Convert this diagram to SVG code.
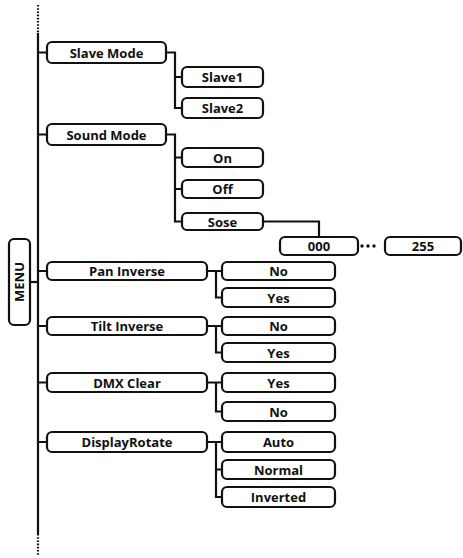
<svg xmlns="http://www.w3.org/2000/svg" width="463" height="558" viewBox="0 0 463 558">
<style>
.b{fill:#fff;stroke:#111;stroke-width:2.2}
.c{fill:none;stroke:#111;stroke-width:2.2}
.d{fill:none;stroke:#111;stroke-width:2.2;stroke-dasharray:1.6 1.6}
text{font-family:"Open Sans","Liberation Sans",sans-serif;font-weight:700;font-size:13px;fill:#111;text-anchor:middle}
</style>
<rect width="463" height="558" fill="#fff"/>
<g id="connectors">
<path class="d" d="M38 5V33M38 534V556"/>
<path class="c" d="M38 33V534"/>
<path class="c" d="M30 282H38"/>
<path class="c" d="M38 52.5H47M38 134.5H47M38 271H47M38 326H47M38 382.5H47M38 442H47"/>
<path class="c" d="M166 52.5H175V108H182M175 77H182"/>
<path class="c" d="M166 134.5H175V221.5H182M175 157.5H182M175 189H182"/>
<path class="c" d="M263 221.5H319V237"/>
<path class="c" d="M207 271H222M216 271V297.5H222"/>
<path class="c" d="M207 326H222M216 326V352.5H222"/>
<path class="c" d="M207 382.5H222M216 382.5V411.5H222"/>
<path class="c" d="M207 442H222M216 442V497H222M216 469.5H222"/>
<circle cx="362" cy="246" r="1.7" fill="#111"/>
<circle cx="368" cy="246" r="1.7" fill="#111"/>
<circle cx="374" cy="246" r="1.7" fill="#111"/>
</g>
<g id="menu"><rect class="b" x="9" y="239" width="21" height="86" rx="5"/><text transform="translate(24 282) rotate(-90)">MENU</text></g>
<g id="slave-mode"><rect class="b" x="47" y="42" width="119" height="21" rx="5"/><text x="106.5" y="58">Slave Mode</text></g>
<g id="slave1"><rect class="b" x="182" y="67" width="81" height="20" rx="5"/><text x="222.5" y="82">Slave1</text></g>
<g id="slave2"><rect class="b" x="182" y="98" width="81" height="20" rx="5"/><text x="222.5" y="113">Slave2</text></g>
<g id="sound-mode"><rect class="b" x="47" y="124" width="119" height="21" rx="5"/><text x="106.5" y="140">Sound Mode</text></g>
<g id="on"><rect class="b" x="182" y="148" width="81" height="19" rx="5"/><text x="222.5" y="162.5">On</text></g>
<g id="off"><rect class="b" x="182" y="180" width="81" height="18" rx="5"/><text x="222.5" y="194">Off</text></g>
<g id="sose"><rect class="b" x="182" y="213" width="81" height="17" rx="5"/><text x="222.5" y="226.5">Sose</text></g>
<g id="v000"><rect class="b" x="280" y="237" width="78" height="18" rx="5"/><text x="319" y="251">000</text></g>
<g id="v255"><rect class="b" x="385" y="237" width="76" height="18" rx="5"/><text x="423" y="251">255</text></g>
<g id="pan-inverse"><rect class="b" x="47" y="262" width="160" height="18" rx="5"/><text x="127" y="276">Pan Inverse</text></g>
<g id="pan-no"><rect class="b" x="222" y="262" width="113" height="18" rx="5"/><text x="278.5" y="276">No</text></g>
<g id="pan-yes"><rect class="b" x="222" y="288" width="113" height="19" rx="5"/><text x="278.5" y="302.5">Yes</text></g>
<g id="tilt-inverse"><rect class="b" x="47" y="317" width="160" height="18" rx="5"/><text x="127" y="331">Tilt Inverse</text></g>
<g id="tilt-no"><rect class="b" x="222" y="317" width="113" height="18" rx="5"/><text x="278.5" y="331">No</text></g>
<g id="tilt-yes"><rect class="b" x="222" y="343" width="113" height="19" rx="5"/><text x="278.5" y="357.5">Yes</text></g>
<g id="dmx-clear"><rect class="b" x="47" y="373" width="160" height="19" rx="5"/><text x="127" y="387.5">DMX Clear</text></g>
<g id="dmx-yes"><rect class="b" x="222" y="373" width="113" height="19" rx="5"/><text x="278.5" y="387.5">Yes</text></g>
<g id="dmx-no"><rect class="b" x="222" y="402" width="113" height="19" rx="5"/><text x="278.5" y="416.5">No</text></g>
<g id="display-rotate"><rect class="b" x="47" y="432" width="160" height="20" rx="5"/><text x="127" y="447">DisplayRotate</text></g>
<g id="auto"><rect class="b" x="222" y="432" width="113" height="20" rx="5"/><text x="278.5" y="447">Auto</text></g>
<g id="normal"><rect class="b" x="222" y="460" width="113" height="19" rx="5"/><text x="278.5" y="474.5">Normal</text></g>
<g id="inverted"><rect class="b" x="222" y="487" width="113" height="20" rx="5"/><text x="278.5" y="502">Inverted</text></g>
</svg>
